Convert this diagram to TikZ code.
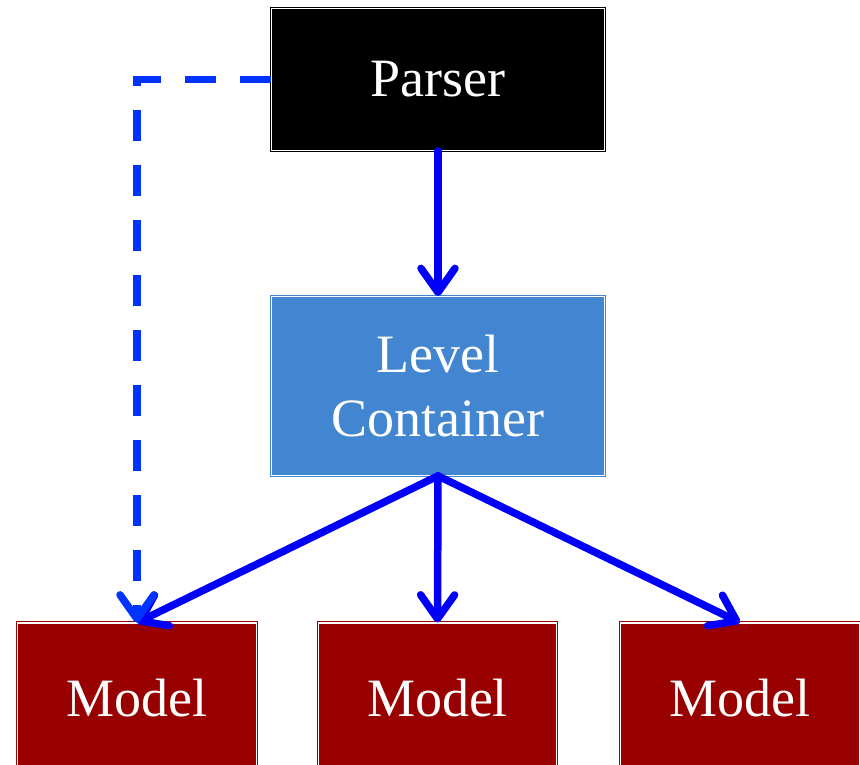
\documentclass[tikz,border=0pt]{standalone}
\usepackage{fontspec}
\setmainfont{Liberation Serif}
\usetikzlibrary{arrows.meta}
\definecolor{flowblue}{RGB}{0,0,250}
\definecolor{dashblue}{RGB}{0,51,255}
\definecolor{levelblue}{RGB}{66,133,208}
\definecolor{modelred}{RGB}{153,0,0}
\tikzset{
  box/.style={draw=#1, fill=#1, line width=0.8pt, double=white, double distance=1.6pt,
    inner sep=0pt, text=white, align=center,
    font=\fontsize{54}{66}\selectfont},
  flow/.style={draw=flowblue, line width=7.5pt, line cap=round,
    -{Straight Barb[length=24pt, width=34pt, round]}},
  hint/.style={draw=dashblue, line width=7.5pt, dash pattern=on 31pt off 24pt,
    -{Straight Barb[length=24pt, width=34pt, round]}},
}
\begin{document}
\begin{tikzpicture}[x=1pt, y=-1pt]
\useasboundingbox (0,0) rectangle (860,764);
\node[box=black, minimum width=333pt, minimum height=142pt] (parser) at (438,79.5) {Parser};
\node[box=levelblue, minimum width=333pt, minimum height=179pt] (level) at (438,386) {Level\\[-2pt]Container};
\node[box=modelred, minimum width=239pt, minimum height=150pt] (m1) at (137,698) {Model};
\node[box=modelred, minimum width=238pt, minimum height=150pt] (m2) at (437.5,698) {Model};
\node[box=modelred, minimum width=239pt, minimum height=150pt] (m3) at (740,698) {Model};
\draw[flow] (parser.south) -- (level.north);
\draw[flow] (level.south) -- (m1.north);
\draw[flow] (level.south) -- (m2.north);
\draw[flow] (level.south) -- (m3.north);
\draw[hint] (parser.west) -| (m1.north);
\end{tikzpicture}
\end{document}
